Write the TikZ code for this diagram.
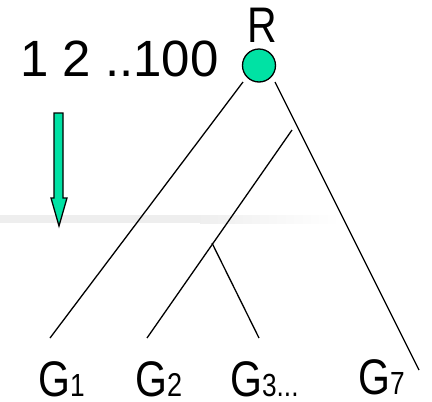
\documentclass[tikz,border=0pt]{standalone}
\usepackage{fontspec}
\setmainfont{Liberation Sans}
\newfontfamily\narrowsans[FakeStretch=0.82]{Liberation Sans}
\definecolor{mint}{RGB}{0,226,164}
\begin{document}
\begin{tikzpicture}[x=1pt,y=-1pt,
  branch/.style={line width=1.3pt,black},
  leaf/.style={anchor=base west,inner sep=0pt,font=\narrowsans\fontsize{50}{50}\selectfont}]
\useasboundingbox (0,0) rectangle (432,402);

% faint horizontal band
\fill[gray!13] (0,215) rectangle (200,223);
\shade[left color=gray!13,right color=white] (200,215) rectangle (340,223);

% root and sequence label
\node[circle,draw=black,line width=1.3pt,fill=mint,minimum size=33pt,inner sep=0pt] (R) at (259,65.5) {};
\node[anchor=base,inner sep=0pt,font=\narrowsans\fontsize{50}{50}\selectfont] (Rlab) at (262.5,42) {R};
\node[anchor=base west,inner sep=0pt,font=\fontsize{51}{51}\selectfont] (seq) at (20,76) {1 2 ..100};

% downward arrow
\filldraw[fill=mint,draw=black,line width=1.3pt,line join=miter]
  (54,113) -- (63,113) -- (63,198) -- (67,198) -- (59,226) -- (51,198) -- (54,198) -- cycle;

% tree
\coordinate (rl) at (243,82);
\coordinate (rr) at (275,82);
\coordinate (in) at (292,130);
\coordinate (sp) at (212,243);
\coordinate (l1) at (50,338);
\coordinate (l2) at (147,338);
\coordinate (l3) at (259,338);
\coordinate (l7) at (419,370);
\draw[branch] (rl) -- (l1);
\draw[branch] (rr) -- (l7);
\draw[branch] (in) -- (l2);
\draw[branch] (sp) -- (l3);

% leaf labels
\node[leaf] (G1) at (38,396) {G{\fontsize{32}{32}\selectfont 1}};
\node[leaf] (G2) at (135,396) {G{\fontsize{33}{33}\selectfont 2}};
\node[leaf] (G3) at (230,396) {G{\fontsize{32}{32}\selectfont 3...}};
\node[leaf] (G7) at (358,394) {G{\fontsize{32}{32}\selectfont 7}};
\end{tikzpicture}
\end{document}
